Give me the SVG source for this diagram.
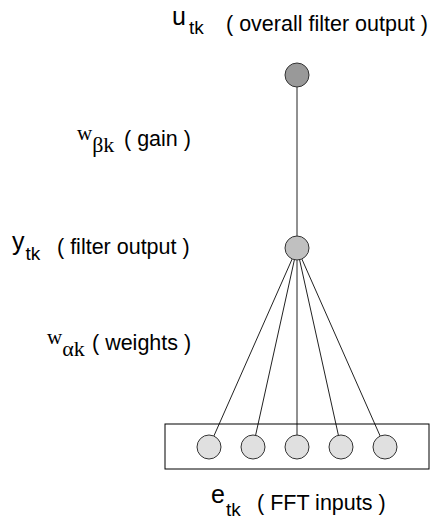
<svg xmlns="http://www.w3.org/2000/svg" width="431" height="525" viewBox="0 0 431 525">
<style>
.sans{font-family:"Liberation Sans",Arial,sans-serif;fill:#000}
.serif{font-family:"Liberation Serif","Times New Roman",serif;fill:#000}
.lbl{font-size:21.5px}
.main{font-size:25px}
.sub{font-size:19px}
.wmain{font-size:21px}
.wsub{font-size:22px}
.edge{stroke:#222;stroke-width:1;fill:none}
.node{stroke:#333;stroke-width:1}
</style>
<rect width="431" height="525" fill="#fff"/>
<g id="connectors">
<line class="edge" x1="297" y1="75" x2="297" y2="248"/>
<line class="edge" x1="297" y1="248" x2="209" y2="447"/>
<line class="edge" x1="297" y1="248" x2="253" y2="447"/>
<line class="edge" x1="297" y1="248" x2="297" y2="447"/>
<line class="edge" x1="297" y1="248" x2="341" y2="447"/>
<line class="edge" x1="297" y1="248" x2="385" y2="447"/>
</g>
<g id="input-box"><rect x="165" y="424" width="264" height="45" fill="none" stroke="#000" stroke-width="1"/></g>
<g id="u-node"><circle class="node" cx="297" cy="75" r="12" fill="#999"/></g>
<g id="y-node"><circle class="node" cx="297" cy="248" r="12" fill="#c0c0c0"/></g>
<g id="e1"><circle class="node" cx="209" cy="447" r="12" fill="#e0e0e0"/></g>
<g id="e2"><circle class="node" cx="253" cy="447" r="12" fill="#e0e0e0"/></g>
<g id="e3"><circle class="node" cx="297" cy="447" r="12" fill="#e0e0e0"/></g>
<g id="e4"><circle class="node" cx="341" cy="447" r="12" fill="#e0e0e0"/></g>
<g id="e5"><circle class="node" cx="385" cy="447" r="12" fill="#e0e0e0"/></g>
<g id="labels">
<text class="sans main" x="172" y="25">u<tspan class="sub" dx="3" dy="9">tk</tspan></text>
<text class="sans lbl" x="226" y="31">( overall filter output )</text>
<text class="serif wmain" x="77" y="140">w<tspan class="wsub" dy="12">βk</tspan></text>
<text class="sans lbl" x="124" y="146">( gain )</text>
<text class="sans main" x="12" y="250">y<tspan class="sub" dx="1" dy="10">tk</tspan></text>
<text class="sans lbl" x="57" y="254">( filter output )</text>
<text class="serif wmain" x="47" y="344">w<tspan class="wsub" dy="12">αk</tspan></text>
<text class="sans lbl" x="92" y="350">( weights )</text>
<text class="sans main" x="211" y="503">e<tspan class="sub" dx="1" dy="13">tk</tspan></text>
<text class="sans lbl" x="257" y="510">( FFT inputs )</text>
</g>
</svg>
